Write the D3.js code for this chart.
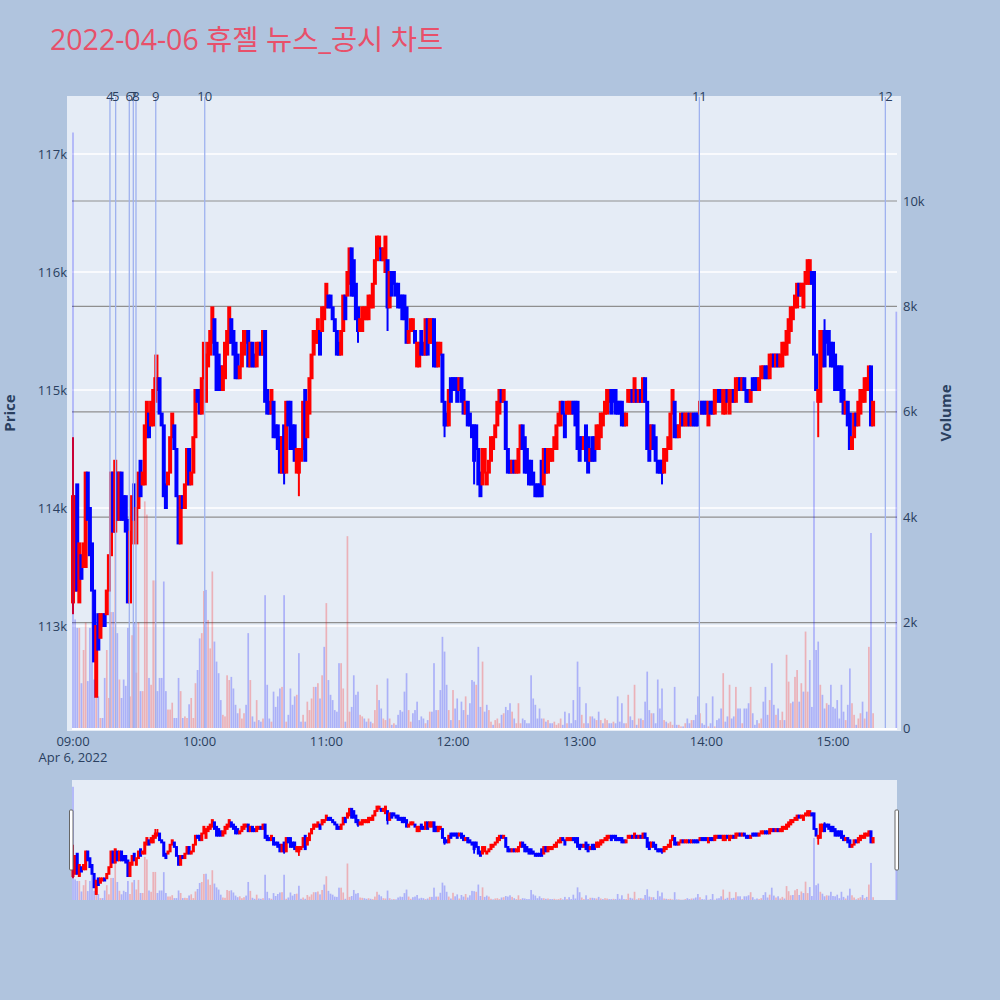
<!DOCTYPE html>
<html><head><meta charset="utf-8">
<script src="https://cdn.jsdelivr.net/npm/d3@7"></script>
<style>html,body{margin:0;padding:0;background:#B0C4DE;}svg{display:block;}</style>
</head><body>
<svg id="chart" width="1000" height="1000"></svg>
<script>
// ---------------- data ----------------
const titleText = "2022-04-06 휴젤 뉴스_공시 차트";
const sessionDate = [2022, 3, 6];           // 2022-04-06
const firstBarTime = "09:00";               // 1-minute bars from here
const PRICE_UNIT = 100;                     // prices below are in units of 100 KRW

const openP = [
 1132,1133,1142,1132,1136,1135,1135,1143,1140,1137,1133,1124,1131,1129,1130,1131,1131,1133,1136,1143,1138,1143,1139,1143,1141,1141,1139,1132,1137,
 1142,1137,1140,1144,1142,1142,1146,1148,1147,1147,1149,1150,1151,1148,1147,1142,1142,1143,1146,1147,1145,1141,1137,1141,1140,1142,1145,1142,1143,1146,1150,1150,1148,1151,
 1149,1152,1153,1154,1156,1154,1153,1152,1150,1151,1153,1154,1156,1155,1154,1153,1151,1152,1153,1154,1155,1152,1154,1153,1152,1153,
 1154,1153,1155,1150,1149,1148,1149,1147,1147,1146,1143,1147,1143,1149,1149,1147,1147,1143,1143,1144,1145,
 1150,1146,1148,1151,1153,1154,1154,1155,1155,1156,1157,1158,1158,1157,1156,1155,1154,1153,1155,
 1158,1158,1159,1162,1161,1159,1157,1155,1155,1156,1156,1156,1157,1157,1159,1161,1162,1162,1161,
 1160,1161,1157,1160,1160,1159,1159,1158,1158,1158,
 1157,1154,1155,1155,1155,1152,1152,1155,1154,1153,1156,1154,1154,1156,1154,1152,1153,1153,1149,1148,1147,1151,1151,
 1151,1151,1150,1151,1150,1148,1149,1148,1147,1147,
 1147,1145,1143,1142,1143,1142,1143,1144,1145,1146,1147,1148,1150,1149,1149,1145,1144,1143,1144,
 1143,1143,1145,1147,1146,1145,1144,1144,
 1143,1142,1142,1142,1144,1142,1145,1143,1144,1144,1145,1145,1147,1147,1149,1148,1148,1148,
 1148,1149,1149,1149,1146,1146,1145,1147,1146,1144,1146,1146,1145,1145,1146,1147,1148,1148,1149,1150,
 1150,1150,1149,1149,1149,1148,
 1147,1149,1149,1150,1149,1150,1149,1150,1149,1151,1149,1147,1145,1147,1146,1144,1144,1144,1143,1144,1145,1145,1148,1149,1147,
 1146,1147,1148,1147,1147,1148,1147,1148,1148,1148,1148,1149,1149,
 1149,1147,1149,1149,1148,1149,1150,1150,1148,1148,1150,1148,1149,1150,1149,1150,1151,1150,1151,1150,
 1150,1149,1151,1151,1151,
 1150,1151,1151,1152,1152,1151,1152,1153,1152,1153,1152,1152,1153,1153,1154,1155,1156,1157,1157,1159,1158,1157,
 1159,1159,1159,1160,1160,1153,1149,1149,1152,1155,1155,1155,1154,1154,1153,1152,1152,1152,1150,1148,1149,1148,1145,1146,1148,1147,1148,1149,1149,1150,1150,1152,1147
];
const closeP = [
 1141,1141,1133,1137,1134,1137,1143,1139,1136,1133,1127,1130,1128,1131,1131,1130,1133,1136,1143,1138,1144,1139,1143,1139,1139,1138,1132,1138,1141,
 1139,1140,1143,1141,1143,1147,1149,1146,1149,1150,1151,1151,1148,1147,1141,1140,1143,1146,1148,1145,1141,1137,1141,1140,1142,1145,1142,1143,1146,1150,1149,1148,1151,1154,
 1153,1154,1155,1157,1153,1150,1150,1150,1152,1154,1155,1157,1154,1153,1151,1151,1152,1154,1155,1155,1152,1154,1152,1152,1154,1154,
 1153,1155,1149,1148,1148,1150,1146,1146,1145,1143,1146,1143,1149,1147,1145,1145,1144,1145,1145,1145,1149,
 1144,1149,1151,1153,1155,1155,1156,1153,1157,1157,1159,1157,1157,1156,1155,1153,1153,1155,1158,
 1156,1160,1162,1158,1158,1156,1155,1156,1157,1157,1157,1158,1158,1159,1161,1163,1163,1161,1162,
 1163,1157,1160,1158,1159,1158,1157,1157,1156,1156,
 1154,1155,1156,1156,1154,1154,1154,1153,1153,1156,1153,1156,1156,1152,1152,1154,1154,1149,1147,1147,1150,1149,1150,
 1150,1149,1151,1149,1148,1149,1147,1147,1146,1144,
 1145,1142,1141,1145,1145,1143,1144,1146,1146,1147,1149,1150,1149,1150,1145,1143,1143,1144,1143,
 1144,1145,1147,1145,1143,1143,1142,1142,
 1142,1141,1141,1141,1141,1145,1143,1145,1145,1145,1146,1147,1148,1149,1148,1146,1149,1149,
 1149,1148,1147,1145,1144,1145,1146,1144,1143,1145,1144,1144,1147,1147,1148,1148,1149,1150,1150,1148,
 1149,1148,1148,1148,1147,1147,
 1148,1150,1150,1149,1151,1149,1150,1149,1151,1149,1145,1144,1147,1145,1144,1143,1143,1143,1145,1145,1146,1148,1150,1146,1146,
 1147,1148,1147,1148,1148,1147,1148,1147,1147,1147,1149,1148,1148,
 1148,1149,1148,1148,1150,1150,1149,1149,1150,1150,1149,1150,1150,1149,1151,1151,1150,1151,1150,1149,
 1149,1150,1150,1150,1150,
 1151,1152,1152,1151,1151,1153,1153,1152,1153,1152,1153,1154,1154,1155,1156,1157,1157,1158,1159,1158,1159,1159,
 1160,1161,1161,1159,1153,1150,1150,1155,1155,1152,1154,1153,1152,1152,1150,1150,1150,1149,1148,1149,1147,1145,1146,1148,1147,1149,1150,1150,1151,1151,1152,1147,1149
];
// extra wick extremes (minute index, high, low)
const wickMinute = [0, 39, 40, 100, 107, 135, 149, 176, 190, 279, 353, 356];
const wickHigh   = [1146, 1153, 1153, null, null, null, null, null, null, null, null, 1156];
const wickLow    = [1131, null, null, 1142, 1141, 1154, 1155, 1146, 1142, 1142, 1146, null];
const volumeShares = [
 11300,2060,1900,1900,850,1480,2000,890,1900,3000,920,570,600,190,190,950,1480,570,2200,2200,3800,1800,920,570,920,800,1900,600,1760,
 2000,1050,2000,700,700,4300,4050,950,820,2800,2800,700,950,950,2780,700,350,350,480,190,190,950,700,190,220,190,450,570,190,850,1100,1700,1800,2600,
 2620,2050,1510,2970,1640,1260,1040,530,250,220,1000,910,970,750,440,280,370,180,280,440,1800,910,220,120,530,150,
 120,180,2520,820,180,120,690,400,600,750,780,2520,120,250,750,440,600,630,1420,120,250,
 120,500,340,560,780,780,850,560,1000,1540,2370,910,630,530,340,310,1230,1230,750,
 120,3640,310,400,1000,630,690,250,220,180,120,180,120,90,340,820,530,370,180,
 150,940,180,60,90,60,250,340,310,690,
 1040,340,120,280,340,500,150,220,180,90,150,310,310,1230,340,340,720,1730,1450,820,340,150,720,
 370,560,150,500,340,600,250,470,910,880,
 820,1540,400,1260,310,440,340,120,60,150,180,90,250,280,400,340,470,310,180,
 90,470,90,180,150,90,90,1000,
 560,440,180,370,180,180,120,150,90,90,120,60,90,180,60,310,90,280,
 90,530,150,1260,780,250,90,470,90,220,220,180,150,310,150,90,180,150,90,90,
 120,90,600,120,470,90,
 90,630,220,150,820,60,180,180,150,500,1070,340,280,280,90,920,370,750,150,120,90,120,60,780,60,
 60,30,30,90,180,90,150,150,250,600,280,90,60,
 470,30,90,600,30,150,180,370,1040,120,220,820,180,220,780,370,370,90,370,370,
 470,780,280,60,150,
 90,180,500,780,250,530,1230,440,250,370,150,310,150,1390,880,470,500,970,1100,500,850,690,
 1830,690,1290,400,6200,1480,1640,820,630,370,470,440,820,400,370,530,180,820,310,150,440,1130,470,250,60,180,280,500,180,310,1540,3700,280
];
// closing auction bar
const auctionTime = "15:30";
const auctionPrice = 1141;
const auctionVolume = 7900;

// news / disclosure markers
const newsLabels = ["4", "5", "6", "7", "8", "9", "10", "11", "12"];
const newsTimes  = ["09:17:30", "09:20:12", "09:26:40", "09:28:34", "09:29:50", "09:39:12", "10:02:24", "13:56:42", "15:24:48"];

// axis ticks
const priceTicks = [113000, 114000, 115000, 116000, 117000];
const volumeTicks = [0, 2000, 4000, 6000, 8000, 10000];
const hourTicks = ["09:00", "10:00", "11:00", "12:00", "13:00", "14:00", "15:00"];
const dateLabel = "Apr 6, 2022";

// ---------------- build ----------------
const toDate = s => { const p = s.split(":").map(Number); return new Date(sessionDate[0], sessionDate[1], sessionDate[2], p[0], p[1], p[2] || 0); };
const t0 = toDate(firstBarTime);
const MIN = 60000;
const bars = openP.map((o, i) => {
  const c = closeP[i];
  let h = Math.max(o, c), l = Math.min(o, c);
  const k = wickMinute.indexOf(i);
  if (k >= 0) { if (wickHigh[k] != null) h = wickHigh[k]; if (wickLow[k] != null) l = wickLow[k]; }
  return { t: new Date(+t0 + i * MIN), o: o * PRICE_UNIT, c: c * PRICE_UNIT, h: h * PRICE_UNIT, l: l * PRICE_UNIT, v: volumeShares[i] };
});
bars.push({ t: toDate(auctionTime), o: auctionPrice * PRICE_UNIT, c: auctionPrice * PRICE_UNIT, h: auctionPrice * PRICE_UNIT, l: auctionPrice * PRICE_UNIT, v: auctionVolume });
bars.forEach((b, i) => {
  b.up = b.c > b.o;
  b.vUp = i > 0 && b.c > bars[i - 1].c;
});

const RED = "#ff0000", BLUE = "#0000ff";
const TXT = "#2a3f5f";
const FONT = "'Open Sans', 'Noto Sans CJK KR', sans-serif";

const svg = d3.select("#chart");
svg.append("rect").attr("width", 1000).attr("height", 1000).attr("fill", "#B0C4DE");

// plot geometry
const L = 72, R = 897, T = 97, B = 728;
const x = d3.scaleTime()
  .domain([new Date(+t0 - 0.4737 * MIN), new Date(+t0 + 390.32 * MIN)])
  .range([L, R]);
const yP = d3.scaleLinear().domain([113000, 117000]).range([626, 154]);
const yV = d3.scaleLinear().domain([0, 10000]).range([B, 201]);

// title
svg.append("text").attr("x", 50).attr("y", 50).attr("font-family", FONT).attr("font-size", 28.5)
  .attr("fill", "#E8506A").text(titleText);

// plot background
svg.append("rect").attr("x", 67).attr("y", 96).attr("width", 834).attr("height", 635).attr("fill", "#E5ECF6");

const g = svg.append("g");
// price grid (white)
g.selectAll(".pg").data(priceTicks).join("line")
  .attr("x1", L).attr("x2", R).attr("y1", d => yP(d)).attr("y2", d => yP(d))
  .attr("stroke", "#ffffff").attr("stroke-width", 1.5);
// volume grid (grey)
g.selectAll(".vg").data(volumeTicks.filter(d => d > 0)).join("line")
  .attr("x1", L).attr("x2", R).attr("y1", d => yV(d)).attr("y2", d => yV(d))
  .attr("stroke", "#8f8f8f").attr("stroke-width", 1.2);
g.append("line").attr("x1", L).attr("x2", R).attr("y1", yV(0) + 1).attr("y2", yV(0) + 1)
  .attr("stroke", "#ffffff").attr("stroke-width", 2);

function drawCandles(sel, xs, ys, bodyW, lw) {
  sel.selectAll("line.w").data(bars).join("line").attr("class", "w")
    .attr("x1", d => xs(d.t)).attr("x2", d => xs(d.t))
    .attr("y1", d => ys(d.h)).attr("y2", d => ys(d.l))
    .attr("stroke", d => d.up ? RED : BLUE).attr("stroke-width", lw);
  sel.selectAll("rect.b").data(bars).join("rect").attr("class", "b")
    .attr("x", d => xs(d.t) - bodyW / 2).attr("width", bodyW)
    .attr("y", d => Math.min(ys(d.o), ys(d.c)))
    .attr("height", d => Math.abs(ys(d.o) - ys(d.c)))
    .attr("fill", d => d.up ? RED : BLUE)
    .attr("stroke", d => d.up ? RED : BLUE).attr("stroke-width", lw);
}
function drawVolume(sel, xs, ys, w) {
  sel.selectAll("rect.v").data(bars).join("rect").attr("class", "v")
    .attr("x", d => xs(d.t) - w / 2).attr("width", w)
    .attr("y", d => ys(d.v)).attr("height", d => ys(0) - ys(d.v))
    .attr("fill", d => d.vUp ? RED : BLUE).attr("fill-opacity", 0.25);
}

const pxPerMin = x(new Date(+t0 + MIN)) - x(t0);
drawCandles(g.append("g"), x, yP, 2.0, 2);
drawVolume(g.append("g"), x, yV, pxPerMin * 0.8);

// news lines
const news = newsTimes.map((s, i) => ({ t: toDate(s), label: newsLabels[i] }));
g.selectAll(".nl").data(news).join("line")
  .attr("x1", d => x(d.t)).attr("x2", d => x(d.t)).attr("y1", T).attr("y2", B)
  .attr("stroke", "#9fb2ef").attr("stroke-width", 1.3);
g.selectAll(".nt").data(news).join("text")
  .attr("x", d => x(d.t)).attr("y", 101).attr("text-anchor", "middle")
  .attr("font-family", FONT).attr("font-size", 13).attr("fill", TXT).text(d => d.label);

// axes labels
const axG = svg.append("g").attr("font-family", FONT).attr("font-size", 13).attr("fill", TXT);
axG.selectAll(".py").data(priceTicks).join("text")
  .attr("x", 67).attr("y", d => yP(d) + 4.5).attr("text-anchor", "end").text(d => (d / 1000) + "k");
axG.selectAll(".vy").data(volumeTicks).join("text")
  .attr("x", 903).attr("y", d => yV(d) + 4.5).attr("text-anchor", "start").text(d => d === 0 ? "0" : (d / 1000) + "k");
axG.selectAll(".xt").data(hourTicks).join("text")
  .attr("x", d => x(toDate(d))).attr("y", 746).attr("text-anchor", "middle").text(d => d);
axG.append("text").attr("x", x(t0)).attr("y", 762).attr("text-anchor", "middle").text(dateLabel);

svg.append("text").attr("transform", "translate(15,413) rotate(-90)").attr("text-anchor", "middle")
  .attr("font-family", FONT).attr("font-size", 15).attr("font-weight", "bold").attr("fill", TXT).text("Price");
svg.append("text").attr("transform", "translate(951,413) rotate(-90)").attr("text-anchor", "middle")
  .attr("font-family", FONT).attr("font-size", 15).attr("font-weight", "bold").attr("fill", TXT).text("Volume");

// range slider
const ST = 780, SB = 900;
svg.append("rect").attr("x", L).attr("y", ST).attr("width", R - L).attr("height", SB - ST).attr("fill", "#E5ECF6");
const ysP = d3.scaleLinear().domain([yP.invert(T), yP.invert(B)]).range([ST, SB]);
const ysV = d3.scaleLinear().domain([0, yV.invert(T)]).range([SB, ST]);
const sg = svg.append("g");
drawCandles(sg.append("g"), x, ysP, 1.2, 1.8);
drawVolume(sg.append("g"), x, ysV, pxPerMin * 0.8);
[[69.5, 810], [895, 810]].forEach(([hx, hy]) => {
  svg.append("rect").attr("x", hx).attr("y", hy).attr("width", 3.5).attr("height", 60)
    .attr("fill", "#ffffff").attr("stroke", "#666").attr("stroke-width", 1).attr("rx", 1);
});
</script>
</body></html>
